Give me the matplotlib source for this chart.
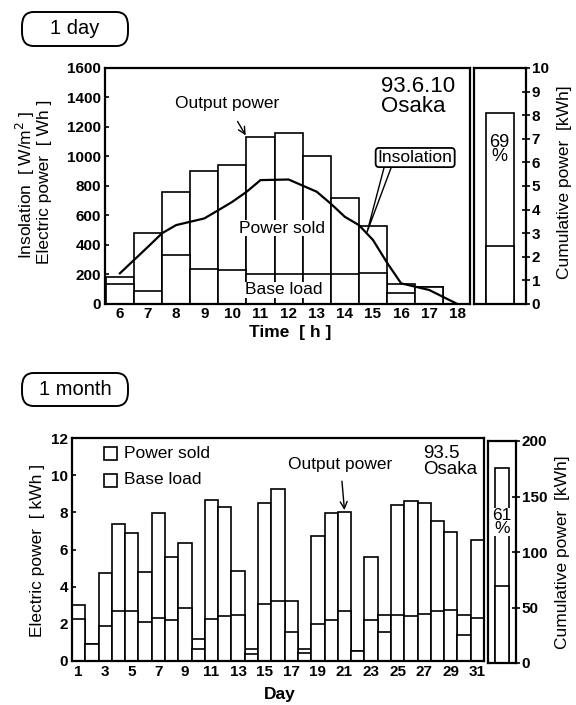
import matplotlib
matplotlib.use("Agg")
import matplotlib.pyplot as plt
from matplotlib.patches import FancyBboxPatch, Rectangle

plt.rcParams['font.family'] = ['Liberation Sans', 'DejaVu Sans']

# ---------------- data: 1 day ----------------
hours = [6, 7, 8, 9, 10, 11, 12, 13, 14, 15, 16, 17]
day_output = [185, 480, 760, 905, 945, 1130, 1160, 1000, 720, 528, 135, 113]
day_base = [135, 85, 332, 240, 230, 200, 200, 200, 200, 210, 72, 113]
insol_h = [6, 7, 7.5, 8, 9, 9.5, 10, 10.5, 11, 12, 13, 13.5, 14, 14.5, 15, 15.5, 16, 17, 18]
insol_v = [208, 388, 480, 535, 580, 636, 693, 760, 840, 844, 761, 680, 591, 535, 434, 280, 140, 95, 0]
day_cum_total = 8.1
day_cum_base = 2.45
hour_ticks = list(range(6, 19))
day_yticks = list(range(0, 1601, 200))
day_cum_ticks = list(range(0, 11))

# ---------------- data: 1 month ----------------
days = list(range(1, 32))
month_output = [3.0, 0.9, 4.76, 7.36, 6.9, 4.8, 7.98, 5.6, 6.36, 1.2, 8.66, 8.3, 4.85, 0.63, 8.51,
                9.23, 3.23, 0.66, 6.72, 7.94, 8.03, 0.54, 5.6, 2.5, 8.42, 8.62, 8.48, 7.54, 6.95, 2.5, 6.5]
month_base = [2.28, 0.9, 1.89, 2.69, 2.68, 2.1, 2.34, 2.19, 2.87, 0.63, 2.25, 2.43, 2.5, 0.4, 3.09,
              3.23, 1.56, 0.45, 1.98, 2.23, 2.68, 0.54, 2.19, 1.56, 2.5, 2.43, 2.55, 2.68, 2.73, 1.42, 2.34]
month_cum_total = 176
month_cum_base = 69
day_xticks = list(range(1, 32, 2))
month_yticks = list(range(0, 13, 2))
month_cum_ticks = list(range(0, 201, 50))

W, H = 576, 705
fig = plt.figure(figsize=(W / 100, H / 100), dpi=100)


def rect(l, r, t, b):
    return [l / W, 1 - b / H, (r - l) / W, (b - t) / H]


def fx(x):
    return x / W


def fy(y):
    return 1 - y / H


LW = 1.2
TXT = 12.5


def style_ax(ax):
    for s in ax.spines.values():
        s.set_linewidth(1.6)
    ax.tick_params(width=1.2, length=3, direction='in', pad=3)
    for lab in ax.get_xticklabels() + ax.get_yticklabels():
        lab.set_fontweight('bold')
        lab.set_fontsize(11)


# ---------------- top panel ----------------
ax1 = fig.add_axes(rect(105, 470, 68, 304))
ax1.bar(hours, day_output, width=1.0, color='white', edgecolor='black', linewidth=LW, zorder=2)
ax1.bar(hours, day_base, width=1.0, color='white', edgecolor='black', linewidth=LW, zorder=2)
ax1.plot(insol_h, insol_v, color='black', linewidth=1.6, zorder=4)
ax1.set_xlim(5.47, 18.45)
ax1.set_ylim(0, 1600)
ax1.set_xticks(hour_ticks)
ax1.set_yticks(day_yticks)
style_ax(ax1)
ax1.tick_params(axis='x', length=0, pad=2)

ax1.text(11.75, 515, 'Power sold', ha='center', va='center', fontsize=TXT, zorder=5,
         bbox=dict(facecolor='white', edgecolor='none', pad=0.5))
ax1.text(11.82, 95, 'Base load', ha='center', va='center', fontsize=TXT, zorder=5,
         bbox=dict(facecolor='white', edgecolor='none', pad=0.5))
ax1.annotate('Output power', xy=(10.5, 1135), xytext=(9.82, 1356), ha='center', va='center',
             fontsize=TXT, zorder=5,
             arrowprops=dict(arrowstyle='->', color='black', lw=1.0, shrinkA=6, shrinkB=1))
ax1.text(0.757, 0.965, '93.6.10\nOsaka', transform=ax1.transAxes, ha='left', va='top',
         fontsize=16, linespacing=0.9, multialignment='left')
# insolation callout
ax1.plot([15.39, 14.79, 15.64], [922, 488, 922], color='black', linewidth=1.0, zorder=5)
ax1.text(16.5, 993, 'Insolation', ha='center', va='center', fontsize=12.5, zorder=6,
         bbox=dict(boxstyle='round,pad=0.12,rounding_size=0.2', facecolor='white',
                   edgecolor='black', linewidth=1.3))

ax1r = fig.add_axes(rect(474, 526, 68, 304))
ax1r.bar([0.5], [day_cum_total], width=0.54, color='white', edgecolor='black', linewidth=LW)
ax1r.bar([0.5], [day_cum_base], width=0.54, color='white', edgecolor='black', linewidth=LW)
ax1r.set_xlim(0, 1)
ax1r.set_ylim(0, 10)
ax1r.set_xticks([])
ax1r.set_yticks(day_cum_ticks)
ax1r.yaxis.tick_right()
style_ax(ax1r)
ax1r.tick_params(axis='y', direction='inout', length=6, pad=1)
ax1r.text(0.48, 6.55, '69\n%', ha='center', va='center', fontsize=13, linespacing=0.8)

fig.text(fx(25), fy(185), 'Insolation  [ W/m$^2$ ]', rotation=90, ha='center', va='center', fontsize=TXT)
fig.text(fx(45), fy(182), 'Electric power  [ Wh ]', rotation=90, ha='center', va='center', fontsize=TXT)
fig.text(fx(565), fy(182), 'Cumulative power  [kWh]', rotation=90, ha='center', va='center', fontsize=TXT)
fig.text(fx(290), fy(333), 'Time  [ h ]', ha='center', va='center', fontsize=TXT, fontweight='bold')

# title boxes
for (l, r, t, b, label) in [(22, 128, 12, 46, '1 day'), (22, 128, 373, 406, '1 month')]:
    box = FancyBboxPatch((fx(l), fy(b)), fx(r) - fx(l), fy(t) - fy(b),
                         boxstyle='round,pad=0,rounding_size=0.02', transform=fig.transFigure,
                         facecolor='white', edgecolor='black', linewidth=1.4)
    fig.patches.append(box)
    fig.text(fx((l + r) / 2), fy((t + b) / 2), label, ha='center', va='center', fontsize=14.5)

# ---------------- bottom panel ----------------
ax2 = fig.add_axes(rect(72, 484, 438, 661))
ax2.bar(days, month_output, width=1.0, color='white', edgecolor='black', linewidth=LW, zorder=2)
ax2.bar(days, month_base, width=1.0, color='white', edgecolor='black', linewidth=LW, zorder=2)
ax2.set_xlim(0.5, 31.5)
ax2.set_ylim(0, 12)
ax2.set_xticks(day_xticks)
ax2.set_yticks(month_yticks)
style_ax(ax2)
ax2.tick_params(axis='x', length=0, pad=3)

ax2.annotate('Output power', xy=(21.0, 8.12), xytext=(20.7, 10.6), ha='center', va='center',
             fontsize=TXT, zorder=5,
             arrowprops=dict(arrowstyle='->', color='black', lw=1.0, shrinkA=5, shrinkB=0))
ax2.text(26.9, 11.6, '93.5\nOsaka', ha='left', va='top', fontsize=13.5, linespacing=0.9,
         multialignment='left')
# legend
for yy, lab in [(453, 'Power sold'), (480, 'Base load')]:
    sq = Rectangle((fx(104), fy(yy + 6.5)), fx(13), 13 / H, transform=fig.transFigure,
                   facecolor='white', edgecolor='black', linewidth=1.2)
    fig.patches.append(sq)
    fig.text(fx(124), fy(yy), lab, ha='left', va='center', fontsize=TXT)

ax2r = fig.add_axes(rect(488, 516, 441, 663))
ax2r.bar([0.5], [month_cum_total], width=0.5, color='white', edgecolor='black', linewidth=LW)
ax2r.bar([0.5], [month_cum_base], width=0.5, color='white', edgecolor='black', linewidth=LW)
ax2r.set_xlim(0, 1)
ax2r.set_ylim(0, 200)
ax2r.set_xticks([])
ax2r.set_yticks(month_cum_ticks)
ax2r.yaxis.tick_right()
style_ax(ax2r)
ax2r.tick_params(axis='y', direction='inout', length=6, pad=1)
ax2r.text(0.5, 127, '61\n%', ha='center', va='center', fontsize=12.5, linespacing=0.8,
          bbox=dict(facecolor='white', edgecolor='none', pad=0.3))

fig.text(fx(38), fy(550), 'Electric power  [ kWh ]', rotation=90, ha='center', va='center', fontsize=TXT)
fig.text(fx(562), fy(552), 'Cumulative power  [kWh]', rotation=90, ha='center', va='center', fontsize=TXT)
fig.text(fx(280), fy(694), 'Day', ha='center', va='center', fontsize=TXT, fontweight='bold')

fig.savefig('out.png', dpi=100)
